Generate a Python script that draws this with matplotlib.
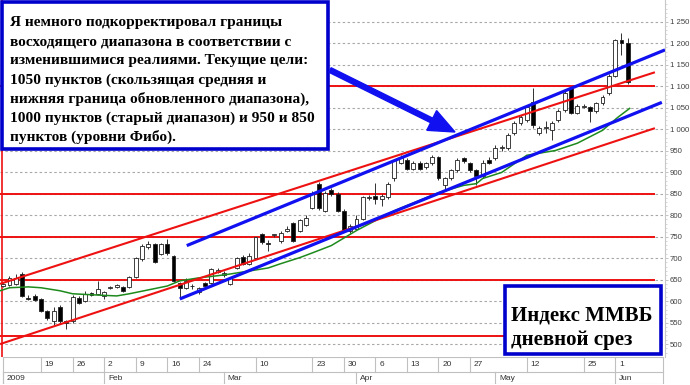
import matplotlib
matplotlib.use("Agg")
import matplotlib.pyplot as plt
from matplotlib.patches import Rectangle, FancyArrow

# ---------------- data ----------------
opens = [636, 638, 640, 663, 608, 612, 605, 577, 553, 586, 553, 553, 607, 600, 619, 617, 612, 630, 633, 633,
         633, 656, 698, 726, 733, 710, 733, 705, 642, 631, 634, 621, 642, 642, 668, 660, 640, 677, 703, 687,
         700, 755, 735, 753, 740, 763, 782, 764, 778, 817, 873, 810, 859, 850, 810, 764, 768, 792, 840, 845,
         838, 841, 885, 922, 927, 908, 922, 911, 920, 934, 869, 885, 904, 932, 920, 904, 890, 929, 932, 956,
         955, 990, 1013, 1020, 1062, 990, 1003, 997, 1020, 1044, 1095, 1037, 1052, 1051, 1041, 1060, 1083, 1123, 1207, 1200]
closes = [640, 654, 654, 612, 606, 603, 577, 560, 577, 553, 549, 610, 596, 616, 614, 628, 621, 632, 637, 624,
          656, 701, 729, 733, 691, 733, 712, 647, 631, 647, 636, 631, 635, 675, 672, 665, 654, 700, 687, 705,
          748, 737, 733, 755, 759, 768, 740, 789, 794, 852, 817, 852, 850, 810, 764, 775, 792, 841, 842, 838,
          845, 873, 927, 934, 908, 922, 908, 920, 934, 885, 885, 904, 927, 925, 904, 890, 922, 922, 957, 958,
          985, 1013, 1027, 1051, 1009, 1002, 1005, 1013, 1041, 1083, 1037, 1053, 1054, 1041, 1060, 1074, 1123, 1207, 1200, 1109]
highs = [645, 658, 662, 668, 614, 617, 608, 580, 586, 590, 556, 614, 612, 624, 622, 647, 624, 634, 640, 636,
         659, 703, 733, 740, 736, 736, 745, 708, 645, 654, 640, 633, 645, 677, 676, 670, 657, 703, 706, 712,
         750, 758, 743, 757, 763, 775, 785, 792, 801, 855, 876, 857, 864, 853, 814, 780, 799, 845, 846, 875,
         850, 878, 930, 940, 932, 926, 925, 924, 940, 937, 889, 908, 932, 936, 924, 908, 927, 934, 962, 962,
         990, 1018, 1032, 1057, 1095, 1006, 1018, 1018, 1046, 1088, 1098, 1058, 1058, 1054, 1064, 1079, 1127, 1210, 1223, 1212]
lows = [632, 636, 638, 610, 603, 600, 574, 556, 544, 550, 535, 550, 593, 598, 612, 614, 605, 628, 631, 621,
        631, 654, 694, 722, 689, 708, 708, 645, 607, 628, 628, 617, 633, 640, 666, 656, 637, 675, 684, 684,
        698, 733, 717, 750, 736, 760, 738, 760, 775, 814, 812, 806, 845, 806, 760, 759, 765, 789, 836, 826,
        820, 838, 880, 918, 904, 904, 904, 908, 917, 882, 859, 882, 900, 922, 900, 869, 887, 918, 928, 950,
        952, 986, 1010, 1016, 1002, 985, 990, 974, 1016, 1040, 1034, 1034, 1048, 1016, 1038, 1056, 1080, 1120, 1172, 1105]

# moving average (green)
ma_idx = [-0.5, 1, 4, 6, 9, 11, 15, 18, 20, 23, 26, 28, 31, 34, 36, 39, 42, 44, 47, 49, 52, 56, 62, 69,
          73, 75, 76, 79, 83, 87.5, 91, 95, 97.4, 99.3]
ma_val = [624, 631, 633, 631, 624, 617, 614, 612, 617, 626, 635, 647, 654, 659, 663, 670, 677, 687, 701, 712,
          729, 764, 810, 852, 869, 873, 885, 899, 939, 950, 967, 997, 1027, 1048]

# trend lines: (start index, start value, end index, end value)
red_upper = [-0.5, 640, 103.3, 1132]
red_lower = [-0.5, 500, 103.3, 1002]
blue_upper = [29.1, 729, 104.9, 1184]
blue_lower = [28.0, 605, 104.4, 1062]
levels = [1100, 850, 750, 650, 518]

ytick_vals = [500, 550, 600, 650, 700, 750, 800, 850, 900, 950, 1000, 1050, 1100, 1150, 1200, 1250]
ytick_labels = ["500", "550", "600", "650", "700", "750", "800", "850", "900", "950",
                "1 000", "1 050", "1 100", "1 150", "1 200", "1 250"]

day_idx = [6, 11, 16, 21, 26, 31, 40, 49, 54, 59, 64, 69, 74, 83, 92, 97]
day_labels = ["19", "26", "2", "9", "16", "24", "10", "23", "30", "6", "13", "20", "27", "12", "25", "1"]
month_idx = [0, 16, 35, 56, 78, 97]
month_labels = ["2009", "Feb", "Mar", "Apr", "May", "Jun"]

note_lines = [
    "Я немного подкорректировал границы",
    "восходящего диапазона в соответствии с",
    "изменившимися реалиями. Текущие цели:",
    "1050 пунктов (скользящая средняя и",
    "нижняя граница обновленного диапазона),",
    "1000 пунктов (старый диапазон) и 950 и 850",
    "пунктов (уровни Фибо).",
]
title_lines = ["Индекс ММВБ", "дневной срез"]

# ---------------- figure ----------------
W, H = 690, 385
fig = plt.figure(figsize=(W / 100, H / 100), dpi=100)
fig.patch.set_facecolor("white")
PR, PB = 665, 357
XMIN, XMAX = -0.5, 104.9
ax = fig.add_axes([0, 1 - PB / H, PR / W, PB / H])
ax.set_xlim(XMIN, XMAX)
ax.set_ylim(470, 1300)

# grid
ax.set_yticks(ytick_vals)
ax.set_yticklabels(ytick_labels)
ax.set_yticks(list(range(480, 1300, 10)), minor=True)
ax.grid(axis="y", which="major", color="#a8a8a8", lw=0.8, ls=(0, (2.2, 2.2)), zorder=0)
ax.set_xticks([])
ax.yaxis.set_ticks_position("right")
ax.tick_params(axis="y", which="major", direction="out", length=2.2, width=0.6, color="#b8b8b8",
               pad=1.2, labelsize=5.6, labelcolor="#404040")
ax.tick_params(axis="y", which="minor", direction="out", length=1.5, width=0.5, color="#c8c8c8")
for lab in ax.get_yticklabels():
    lab.set_fontfamily("Liberation Sans")
for s in ["top", "left", "bottom"]:
    ax.spines[s].set_visible(False)
ax.spines["right"].set_color("#c8c8c8")
ax.spines["right"].set_linewidth(0.8)

# horizontal levels
for lv in levels:
    ax.plot([XMIN, 103.3], [lv, lv], color="#ee1111", lw=1.4, zorder=2, solid_capstyle="butt")
ax.axvline(-0.2, color="#ee1111", lw=1.2, zorder=2)

# candles
n = len(opens)
xs = list(range(n))
ax.vlines(xs, lows, highs, color="#303030", lw=0.7, zorder=3)
bw = 0.62
for i in xs:
    o, c = opens[i], closes[i]
    lo = min(o, c)
    h = max(abs(c - o), 1.2)
    up = c >= o
    ax.bar(i, h, bottom=lo, width=bw, color="white" if up else "black",
           edgecolor="#202020", linewidth=0.6, zorder=4)

# moving average
ax.plot(ma_idx, ma_val, color="#1d8a1d", lw=1.1, zorder=5)

# channels
for ln, col, lw in [(red_upper, "#ee1111", 1.5), (red_lower, "#ee1111", 1.5),
                    (blue_upper, "#1010f0", 2.3), (blue_lower, "#1010f0", 2.3)]:
    ax.plot([ln[0], ln[2]], [ln[1], ln[3]], color=col, lw=lw, zorder=6, solid_capstyle="butt")

# ---------------- date axis ----------------
dax = fig.add_axes([0, 1 / H, PR / W, 27 / H])
dax.set_xlim(XMIN, XMAX)
dax.set_ylim(27, 0)
dax.axis("off")
XR = 104.6
gc = "#c0c0c0"
dax.plot([0, XR], [0, 0], color=gc, lw=0.8)
dax.plot([0, XR], [15, 15], color=gc, lw=0.8)
dax.plot([0, XR], [26.5, 26.5], color=gc, lw=0.8)
dax.plot([0, 0], [0, 26.5], color=gc, lw=0.8)
dax.plot([XR, XR], [0, 26.5], color=gc, lw=0.8)
for d, lab in zip(day_idx, day_labels):
    dax.plot([d, d], [0, 15], color=gc, lw=0.8)
    dax.text(d + 0.6, 7.8, lab, ha="left", va="center", fontsize=6, color="#333333",
             family="Liberation Sans")
for m, lab in zip(month_idx, month_labels):
    dax.plot([m, m], [15, 26.5], color=gc, lw=0.8)
    dax.text(m + 0.6, 21, lab, ha="left", va="center", fontsize=6, color="#333333",
             family="Liberation Sans")

# ---------------- overlay annotations (pixel coords) ----------------
ov = fig.add_axes([0, 0, 1, 1])
ov.set_xlim(0, W)
ov.set_ylim(H, 0)
ov.axis("off")
ov.patch.set_alpha(0)

ov.add_patch(Rectangle((1.8, 1.8), 326.5, 147.5, facecolor="white", edgecolor="#0000cc", lw=2.6, zorder=2))
for k, line in enumerate(note_lines):
    ov.text(10, 26 + 19.2 * k, line, ha="left", va="baseline", fontsize=11.1, fontweight="bold",
            family="Liberation Serif", color="black", zorder=3)

ov.add_patch(FancyArrow(330, 70, 125, 62, width=5, head_width=22, head_length=26,
                        length_includes_head=True, color="#1010f0", zorder=3))

ov.add_patch(Rectangle((505, 285.5), 156, 68, facecolor="white", edgecolor="#0000cc", lw=2.6, zorder=2))
for k, line in enumerate(title_lines):
    ov.text(511, 321 + 24 * k, line, ha="left", va="baseline", fontsize=15, fontweight="bold",
            family="Liberation Serif", color="black", zorder=3)

fig.savefig("out.png", dpi=100, facecolor="white")
